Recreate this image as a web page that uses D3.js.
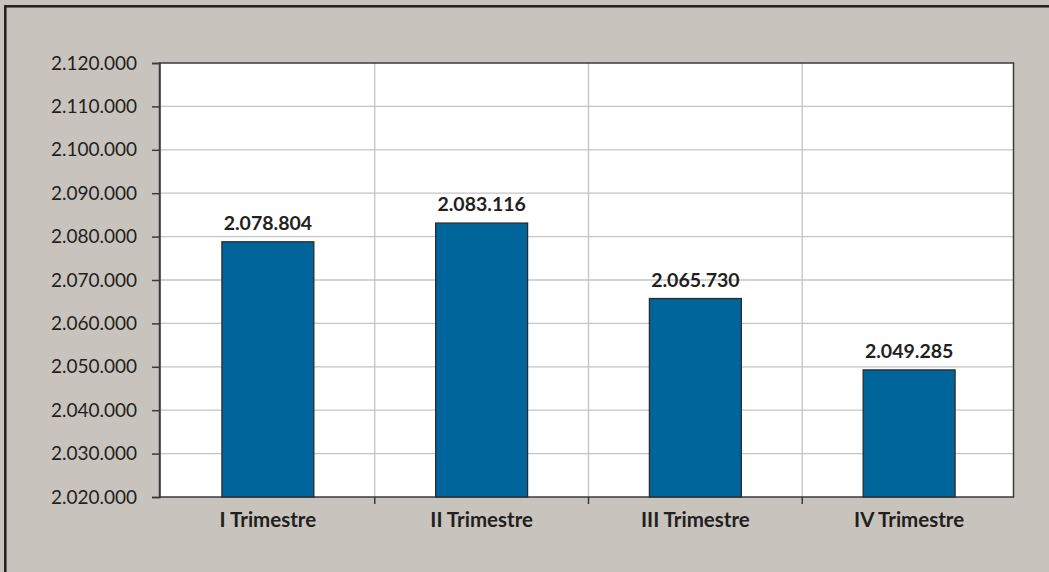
<!DOCTYPE html>
<html>
<head>
<meta charset="utf-8">
<script src="https://cdn.jsdelivr.net/npm/d3@7/dist/d3.min.js"></script>
<style>
  html, body { margin: 0; padding: 0; background: #c9c3bd; }
  svg { display: block; }
</style>
</head>
<body>
<svg id="chart" width="1049" height="572"></svg>
<script>
const categories = ["I Trimestre", "II Trimestre", "III Trimestre", "IV Trimestre"];
const values = [2078804, 2083116, 2065730, 2049285];
const yTicks = [2020000, 2030000, 2040000, 2050000, 2060000, 2070000, 2080000, 2090000, 2100000, 2110000, 2120000];

const fmt = v => d3.format(",")(v).replace(/,/g, ".");
const font = "Lato, 'Open Sans', sans-serif";

const svg = d3.select("#chart");
const W = 1049, H = 572;
const plot = { left: 159.5, right: 1013.5, top: 63, bottom: 497 };

// background & outer frame
svg.append("rect").attr("x", 0).attr("y", 0).attr("width", W).attr("height", H).attr("fill", "#c9c3bd");
svg.append("rect").attr("x", 5.3).attr("y", 6.3).attr("width", W + 20).attr("height", H + 20)
  .attr("fill", "none").attr("stroke", "#231f20").attr("stroke-width", 2.5);

const x = d3.scaleBand().domain(categories).range([161, 1016]).paddingInner(0.57).paddingOuter(0.285);
const y = d3.scaleLinear().domain([2020000, 2120000]).range([plot.bottom, plot.top]);

// plot area
svg.append("rect").attr("x", plot.left).attr("y", plot.top)
  .attr("width", plot.right - plot.left).attr("height", plot.bottom - plot.top)
  .attr("fill", "#ffffff");

// horizontal gridlines
svg.append("g").selectAll("line").data(yTicks.slice(1, -1)).join("line")
  .attr("x1", plot.left).attr("x2", plot.right)
  .attr("y1", d => y(d)).attr("y2", d => y(d))
  .attr("stroke", "#c4c4c4").attr("stroke-width", 1.3);

// vertical gridlines at category boundaries
const bounds = categories.slice(1).map(c => x(c) - x.step() * x.paddingInner() / 2);
svg.append("g").selectAll("line").data(bounds).join("line")
  .attr("x1", d => d).attr("x2", d => d)
  .attr("y1", plot.top).attr("y2", plot.bottom)
  .attr("stroke", "#c4c4c4").attr("stroke-width", 1.3);

// plot frame
svg.append("rect").attr("x", plot.left).attr("y", plot.top)
  .attr("width", plot.right - plot.left).attr("height", plot.bottom - plot.top)
  .attr("fill", "none").attr("stroke", "#3a3a3a").attr("stroke-width", 1.5);

// y axis
const yAxis = d3.axisLeft(y).tickValues(yTicks).tickFormat(fmt).tickSize(7.5).tickPadding(15);
const gy = svg.append("g").attr("transform", `translate(${plot.left},0)`).call(yAxis);
gy.select(".domain").attr("stroke", "#3a3a3a").attr("stroke-width", 1.5);
gy.selectAll(".tick line").attr("stroke", "#3a3a3a").attr("stroke-width", 1.5);
gy.selectAll(".tick text").attr("font-family", font).attr("font-size", 19)
  .attr("fill", "#231f20");

// x axis ticks at boundaries
svg.append("g").selectAll("line").data(bounds).join("line")
  .attr("x1", d => d).attr("x2", d => d)
  .attr("y1", plot.bottom).attr("y2", plot.bottom + 7)
  .attr("stroke", "#3a3a3a").attr("stroke-width", 1.5);

// x labels
svg.append("g").selectAll("text").data(categories).join("text")
  .attr("x", d => x(d) + x.bandwidth() / 2)
  .attr("y", 527)
  .attr("text-anchor", "middle")
  .attr("font-family", font).attr("font-weight", "bold").attr("font-size", 20.5)
  .attr("fill", "#231f20")
  .text(d => d);

// bars
svg.append("g").selectAll("rect").data(values).join("rect")
  .attr("x", (d, i) => x(categories[i]))
  .attr("y", d => y(d))
  .attr("width", x.bandwidth())
  .attr("height", d => plot.bottom - y(d))
  .attr("fill", "#00659b")
  .attr("stroke", "#2b2b2b").attr("stroke-width", 1.3);

// value labels
svg.append("g").selectAll("text").data(values).join("text")
  .attr("x", (d, i) => x(categories[i]) + x.bandwidth() / 2)
  .attr("y", d => y(d) - 12)
  .attr("text-anchor", "middle")
  .attr("font-family", font).attr("font-weight", "bold").attr("font-size", 19.5)
  .attr("fill", "#231f20")
  .text(d => fmt(d));
</script>
</body>
</html>
